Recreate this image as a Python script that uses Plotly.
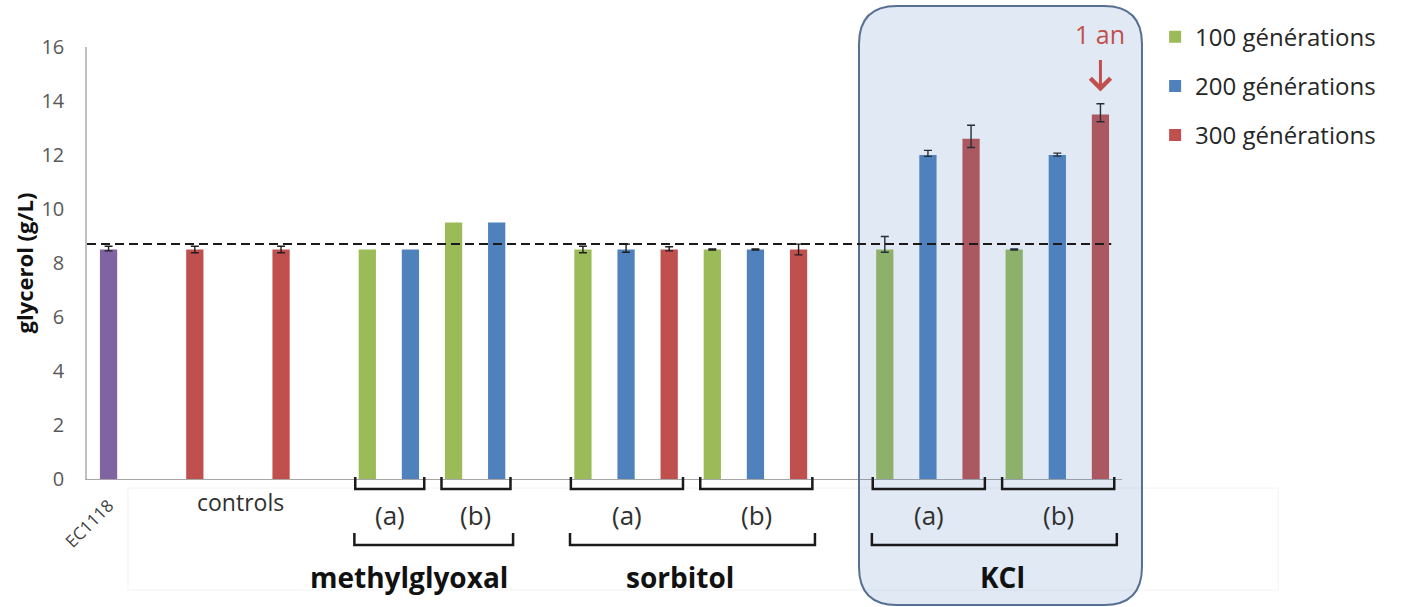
import numpy as np
import plotly.graph_objects as go

nan = np.nan

# ---- data -----------------------------------------------------------------
# x values are bar slots along the axis (one slot = one bar position)
ec1118_pos = [0]
ec1118_val = [8.5]
ec1118_err_hi = [0.12]
ec1118_err_lo = [0.05]

gen100_pos = [6, 8, 11, 14, 18, 21]
gen100_val = [8.5, 9.5, 8.5, 8.5, 8.5, 8.5]
gen100_err_hi = [nan, nan, 0.12, 0.02, 0.48, 0.02]
gen100_err_lo = [nan, nan, 0.12, 0.02, 0.10, 0.02]

gen200_pos = [7, 9, 12, 15, 19, 22]
gen200_val = [8.5, 9.5, 8.5, 8.5, 12.0, 12.0]
gen200_err_hi = [nan, nan, 0.20, 0.02, 0.17, 0.07]
gen200_err_lo = [nan, nan, 0.10, 0.02, 0.05, 0.04]

gen300_pos = [2, 4, 13, 16, 20, 23]
gen300_val = [8.5, 8.5, 8.5, 8.5, 12.6, 13.5]
gen300_err_hi = [0.12, 0.12, 0.10, 0.20, 0.50, 0.40]
gen300_err_lo = [0.12, 0.12, 0.05, 0.20, 0.32, 0.27]

series_names = ["100 générations", "200 générations", "300 générations"]
ref_level = 8.7
y_ticks = [0, 2, 4, 6, 8, 10, 12, 14, 16]

# strain groups: (label, first slot, last slot)
sub_groups = [("(a)", 6, 7), ("(b)", 8, 9),
              ("(a)", 11, 13), ("(b)", 14, 16),
              ("(a)", 18, 20), ("(b)", 21, 23)]
main_groups = [("methylglyoxal", 6, 9), ("sorbitol", 11, 16), ("KCl", 18, 23)]
controls_label = "controls"
year_label = "1 an"

# ---- styling --------------------------------------------------------------
FONT = "Open Sans"
GREEN, BLUE, RED, PURPLE = "#9bbb59", "#4f81bd", "#c0504d", "#8064a2"
BAR_W = 0.4


def err(hi, lo):
    return dict(type="data", symmetric=False,
                array=np.array(hi, dtype=float),
                arrayminus=np.array(lo, dtype=float),
                color="#1f1f1f", thickness=1.4, width=4)


fig = go.Figure()
fig.add_trace(go.Bar(x=ec1118_pos, y=ec1118_val, width=BAR_W,
                     marker=dict(color=PURPLE, line_width=0),
                     error_y=err(ec1118_err_hi, ec1118_err_lo),
                     showlegend=False, name="EC1118"))
for name, pos, val, hi, lo, col in [
    (series_names[0], gen100_pos, gen100_val, gen100_err_hi, gen100_err_lo, GREEN),
    (series_names[1], gen200_pos, gen200_val, gen200_err_hi, gen200_err_lo, BLUE),
    (series_names[2], gen300_pos, gen300_val, gen300_err_hi, gen300_err_lo, RED),
]:
    fig.add_trace(go.Bar(x=pos, y=val, width=BAR_W, name=name, legendgroup=name,
                         marker=dict(color=col, line_width=0),
                         error_y=err(hi, lo)))

# ---- shapes ---------------------------------------------------------------
shapes = []

# rounded highlight panel around the KCl strains (paper coordinates)
bx0, bx1, by0, by1 = 0.7459, 1.0193, -0.2917, 1.0949
rx, ry = 38 / 1035, 38 / 432
panel = (f"M {bx0+rx},{by1} L {bx1-rx},{by1} Q {bx1},{by1} {bx1},{by1-ry} "
         f"L {bx1},{by0+ry} Q {bx1},{by0} {bx1-rx},{by0} "
         f"L {bx0+rx},{by0} Q {bx0},{by0} {bx0},{by0+ry} "
         f"L {bx0},{by1-ry} Q {bx0},{by1} {bx0+rx},{by1} Z")
shapes.append(dict(type="path", path=panel, xref="paper", yref="paper",
                   fillcolor="rgba(79,129,189,0.17)",
                   line=dict(color="#566f93", width=2), layer="above"))

# faint frame under the axis labels
shapes.append(dict(type="rect", xref="paper", yref="paper",
                   x0=0.0396, x1=1.151, y0=-0.257, y1=-0.021,
                   line=dict(color="#f3f3f3", width=1), layer="below"))

# reference level
shapes.append(dict(type="line", xref="x", yref="y", x0=-0.5, x1=23.25,
                   y0=ref_level, y1=ref_level,
                   line=dict(color="#1a1a1a", width=2, dash="9px,5px"),
                   layer="above"))


def bracket(x0, x1, ytop, ybot):
    return dict(type="path", xref="x", yref="paper",
                path=f"M {x0},{ytop} L {x0},{ybot} L {x1},{ybot} L {x1},{ytop}",
                line=dict(color="#1a1a1a", width=2.5), layer="above")


annotations = []
for label, lo, hi in sub_groups:
    a, b = lo - 0.28, hi + 0.32
    shapes.append(bracket(a, b, 0.0046, -0.0231))
    annotations.append(dict(text=label, x=(a + b) / 2, y=-0.083, xref="x", yref="paper",
                            showarrow=False, yanchor="middle",
                            font=dict(family=FONT, size=26, color="#303030")))

main_label_shift = [-0.57, -0.30, 0.20]
for (label, lo, hi), dx in zip(main_groups, main_label_shift):
    a, b = lo - 0.30, hi + 0.38
    shapes.append(bracket(a, b, -0.125, -0.1528))
    annotations.append(dict(text=f"<b>{label}</b>", x=(a + b) / 2 + dx, y=-0.227,
                            xref="x", yref="paper", showarrow=False, yanchor="middle",
                            font=dict(family=FONT, size=28, color="#111111")))

annotations.append(dict(text=controls_label, x=3.07, y=-0.053, xref="x", yref="paper",
                        showarrow=False, yanchor="middle",
                        font=dict(family=FONT, size=23, color="#303030")))

# "1 an" marker over the last KCl bar
annotations.append(dict(text=year_label, x=gen300_pos[-1], y=1.03, xref="x", yref="paper",
                        showarrow=False, yanchor="middle",
                        font=dict(family=FONT, size=25, color=RED)))
annotations.append(dict(text="", x=gen300_pos[-1], y=14.35, xref="x", yref="y",
                        ax=0, ay=-33, showarrow=True, arrowhead=4, arrowsize=1.3,
                        arrowwidth=3, arrowcolor=RED))

fig.update_layout(
    width=1406, height=607,
    margin=dict(l=87, r=284, t=47, b=128, pad=0),
    paper_bgcolor="white", plot_bgcolor="rgba(0,0,0,0)",
    barmode="overlay",
    font=dict(family=FONT, color="#333333"),
    shapes=shapes, annotations=annotations,
    legend=dict(x=1.032, y=1.075, xanchor="left", yanchor="top",
                bgcolor="rgba(0,0,0,0)", tracegroupgap=15,
                font=dict(family=FONT, size=24, color="#262626")),
    xaxis=dict(range=[-0.5, 23.5], showgrid=False, zeroline=False,
               showline=True, linecolor="#a6a6a6", linewidth=1,
               tickvals=ec1118_pos, ticktext=["EC1118"], tickangle=-45,
               ticks="", ticklabelstandoff=9, automargin=False,
               tickfont=dict(family=FONT, size=17, color="#404040")),
    yaxis=dict(range=[0, 16], tickvals=y_ticks, showgrid=False, zeroline=False,
               showline=True, linecolor="#c0c0c0", linewidth=1.5,
               ticks="", ticklabelstandoff=17, automargin=False,
               tickfont=dict(family=FONT, size=20, color="#595959"),
               title=dict(text="<b>glycerol (g/L)</b>", standoff=2,
                          font=dict(family=FONT, size=22, color="#111111"))),
)

fig.write_html("out.html")
